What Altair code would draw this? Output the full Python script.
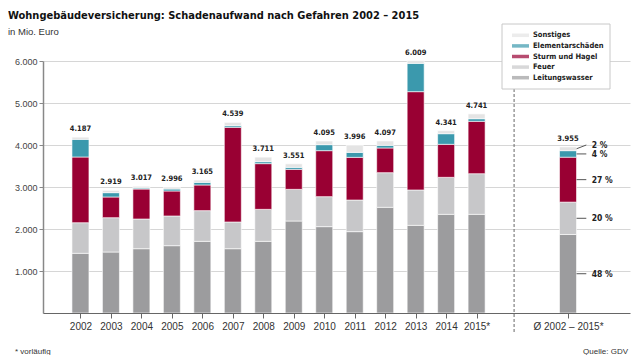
import json
import altair as alt
import pandas as pd

# ---------------- data ----------------
years = ["2002", "2003", "2004", "2005", "2006", "2007", "2008", "2009",
         "2010", "2011", "2012", "2013", "2014", "2015*"]
avg_label = "Ø 2002 – 2015*"
categories = ["Leitungswasser", "Feuer", "Sturm und Hagel", "Elementarschäden", "Sonstiges"]
colors = ["#9c9c9e", "#c7c7c9", "#990033", "#3b99ad", "#e4e4e4"]

leitungswasser = [1421, 1452, 1531, 1603, 1706, 1531, 1706, 2190, 2056, 1937, 2516, 2087, 2349, 2349]
feuer = [729, 817, 707, 707, 731, 636, 762, 754, 714, 753, 825, 842, 881, 968]
sturm_hagel = [1564, 493, 714, 595, 611, 2254, 1088, 477, 1095, 1016, 588, 2341, 786, 1246]
elementar = [421, 103, 24, 47, 63, 39, 47, 47, 143, 119, 63, 674, 253, 63]
sonstiges = [52, 54, 41, 44, 54, 79, 108, 83, 87, 171, 105, 65, 72, 115]
totals = [4187, 2919, 3017, 2996, 3165, 4539, 3711, 3551, 4095, 3996, 4097, 6009, 4341, 4741]

avg_values = [1870, 770, 1070, 155, 90]
avg_total = 3955
avg_shares = ["48 %", "20 %", "27 %", "4 %", "2 %"]

y_ticks = [1000, 2000, 3000, 4000, 5000, 6000]

title = "Wohngebäudeversicherung: Schadenaufwand nach Gefahren 2002 – 2015"
subtitle = "in Mio. Euro"
footnote = "* vorläufig"
source = "Quelle: GDV"

# ---------------- tables ----------------
NARROW = "DejaVu Sans Condensed, Lato"
SANS = "Liberation Sans"

n = len(years)
positions = list(range(n)) + [n + 2]
labels = years + [avg_label]
series = [leitungswasser, feuer, sturm_hagel, elementar, sonstiges]

rows = []
for i, lab in enumerate(labels):
    for k, cat in enumerate(categories):
        v = series[k][i] if i < n else avg_values[k]
        rows.append({"label": lab, "pos": positions[i], "cat": cat, "order": k, "value": v})
bars_df = pd.DataFrame(rows)


def de(v):
    return f"{v:,}".replace(",", ".")


tot_df = pd.DataFrame({"pos": positions,
                       "total": totals + [avg_total],
                       "txt": [de(t) for t in totals + [avg_total]]})

avg_pos = positions[-1]
cum = 0
pct_rows = []
for k, cat in enumerate(categories):
    mid = cum + avg_values[k] / 2
    cum += avg_values[k]
    lab_y = mid if k < len(categories) - 1 else avg_total + 45
    pct_rows.append({"cat": cat, "mid": mid, "lab_y": lab_y, "txt": avg_shares[k],
                     "x0": avg_pos + 0.28, "x1": avg_pos + 0.6, "xt": avg_pos + 0.78})
pct_df = pd.DataFrame(pct_rows)

legend_df = pd.DataFrame({"cat": categories[::-1], "row": list(range(len(categories)))})

sep_pos = n + 0.23  # dashed separator between yearly bars and the average bar

lab_map = years + ["", ""] + [avg_label]
x_label_expr = json.dumps(lab_map, ensure_ascii=False) + "[datum.value]"

color_scale = alt.Scale(domain=categories, range=colors)
x_scale = alt.Scale(domain=[-1.065, 17.87], nice=False, zero=False)
y_scale = alt.Scale(domain=[0, 6000], nice=False)

# ---------------- marks ----------------
bars = alt.Chart(bars_df).mark_bar(size=17, stroke="white", strokeWidth=0.6).encode(
    x=alt.X("pos:Q", scale=x_scale,
            axis=alt.Axis(values=positions, labelExpr=x_label_expr, title=None, grid=False,
                          domainColor="#666", domainWidth=1.2, tickColor="#666", tickSize=5,
                          labelFont=SANS, labelFontSize=10, labelColor="#333", labelPadding=3,
                          labelFlush=False, labelOverlap=False, zindex=1)),
    y=alt.Y("value:Q", stack="zero", scale=y_scale,
            axis=alt.Axis(values=y_ticks, labelExpr="replace(format(datum.value, ','), ',', '.')",
                          title=None, grid=True, gridColor="#d6d6d6", gridWidth=1,
                          domainColor="#888", domainWidth=1.5, tickColor="#888", tickSize=4,
                          labelFont=SANS, labelFontSize=9, labelColor="#444", labelPadding=2,
                          zindex=0)),
    color=alt.Color("cat:N", scale=color_scale, legend=None),
    order=alt.Order("order:Q", sort="ascending"),
)

tot_text = alt.Chart(tot_df).mark_text(baseline="bottom", dy=-4, font=NARROW, fontSize=7.5,
                                       fontWeight="bold", color="#222").encode(
    x="pos:Q", y="total:Q", text="txt:N")

leaders = alt.Chart(pct_df).mark_rule(color="#555", strokeWidth=1).encode(
    x="x0:Q", x2="x1:Q", y="mid:Q", y2="lab_y:Q")

pct_text = alt.Chart(pct_df).mark_text(align="left", baseline="middle", font=NARROW,
                                       fontSize=8.5, fontWeight="bold", color="#222").encode(
    x="xt:Q", y="lab_y:Q", text="txt:N")

main = alt.layer(bars, tot_text, leaders, pct_text)

sep_rule = alt.Chart(pd.DataFrame({"s": [sep_pos]})).mark_rule(
    strokeDash=[3, 2], color="#666", strokeWidth=1).encode(
    x="s:Q", y=alt.value(28), y2=alt.value(272))

box = alt.Chart(pd.DataFrame({"a": [0]})).mark_rect(fill="white", stroke="#c8c8c8", strokeWidth=1).encode(
    x=alt.value(459), x2=alt.value(567), y=alt.value(-37), y2=alt.value(28))

leg_y = alt.Y("row:O", scale=alt.Scale(type="point", range=[-25.7, 16.7], padding=0), axis=None)
swatch = alt.Chart(legend_df).mark_tick(orient="horizontal", size=17, thickness=3.5).encode(
    x=alt.value(477.5), y=leg_y, color=alt.Color("cat:N", scale=color_scale, legend=None))
leg_text = alt.Chart(legend_df).mark_text(align="left", baseline="middle", font=NARROW, fontSize=7.5,
                                          fontWeight="bold", color="#222").encode(
    x=alt.value(490), y=leg_y, text="cat:N")
legend = alt.layer(swatch, leg_text)


def label(txt, x, y, **kw):
    return alt.Chart(pd.DataFrame({"t": [txt]})).mark_text(baseline="alphabetic", **kw).encode(
        text="t:N", x=alt.value(x), y=alt.value(y))


t_title = label(title, -35, -42, align="left", font=NARROW, fontSize=11, fontWeight="bold", color="#111")
t_sub = label(subtitle, -35, -26, align="left", font=SANS, fontSize=9.5, color="#333")
t_foot = label(footnote, -28, 293, align="left", font=SANS, fontSize=8, color="#333")
t_src = label(source, 585, 293, align="right", font=SANS, fontSize=8, color="#333")

chart = alt.layer(sep_rule, box, main, legend, t_title, t_sub, t_foot, t_src).resolve_scale(
    y="independent"
).properties(
    width=587, height=252,
    autosize=alt.AutoSizeParams(type="none"),
    padding={"left": 35, "top": 53, "right": 2, "bottom": 42},
).configure_view(stroke=None)

chart.save("out.html", embed_options={"renderer": "svg", "actions": False})
